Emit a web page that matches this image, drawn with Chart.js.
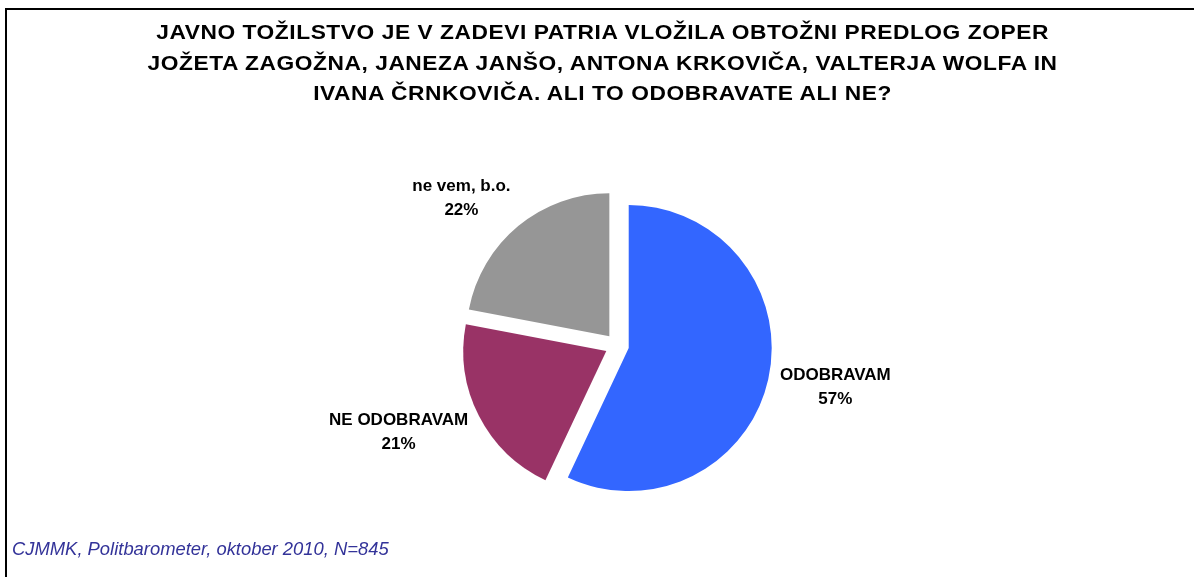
<!DOCTYPE html>
<html>
<head>
<meta charset="utf-8">
<title>Politbarometer oktober 2010</title>
<script src="https://cdn.jsdelivr.net/npm/chart.js@4.4.0/dist/chart.umd.min.js"></script>
<style>
  body { margin: 0; background: #fff; overflow: hidden; }
  #frame {
    position: absolute; left: 5px; top: 8px; width: 1300px; height: 700px;
    border-left: 2px solid #000; border-top: 2px solid #000;
  }
  #pie { position: absolute; left: 0; top: 0; }
  #title {
    position: absolute; left: 0; top: 17px; width: 1205px; text-align: center;
    font: bold 20.5px/30.5px "Liberation Sans", Arial, sans-serif;
    letter-spacing: 0.5px; color: #000;
    transform: scaleX(1.11); transform-origin: 602px 0;
  }
  #note {
    position: absolute; left: 12px; top: 539px;
    font: italic 18.4px/20px "Liberation Sans", Arial, sans-serif;
    color: #333399;
  }
</style>
</head>
<body>
<div id="frame"></div>
<canvas id="pie" width="1194" height="577"></canvas>
<div id="title">JAVNO TOŽILSTVO JE V ZADEVI PATRIA VLOŽILA OBTOŽNI PREDLOG ZOPER<br>JOŽETA ZAGOŽNA, JANEZA JANŠO, ANTONA KRKOVIČA, VALTERJA WOLFA IN<br>IVANA ČRNKOVIČA. ALI TO ODOBRAVATE ALI NE?</div>
<div id="note">CJMMK, Politbarometer, oktober 2010, N=845</div>
<script>
  "use strict";
  // answers, in percent
  var categories = ["ODOBRAVAM", "NE ODOBRAVAM", "ne vem, b.o."];
  var shares = [57, 21, 22];
  var sliceColors = ["#3366FF", "#993366", "#969696"];

  var EXPLODE = 12;   // how far each slice is pulled out
  var GAP = 12;       // space between slice and its label
  var LINE_H = 24;

  // pull every slice out along its middle angle
  var explodePlugin = {
    id: "explode",
    beforeDatasetDraw: function (chart, args) {
      var ctx = chart.ctx;
      args.meta.data.forEach(function (arc) {
        var mid = (arc.startAngle + arc.endAngle) / 2;
        ctx.save();
        ctx.translate(Math.cos(mid) * EXPLODE, Math.sin(mid) * EXPLODE);
        arc.draw(ctx);
        ctx.restore();
      });
      return false;
    }
  };

  // name + percent outside each slice, box hangs off to the side it points to
  var labelPlugin = {
    id: "sliceLabels",
    afterDatasetsDraw: function (chart) {
      var ctx = chart.ctx;
      var meta = chart.getDatasetMeta(0);
      ctx.save();
      ctx.font = "bold 17px 'Liberation Sans', Arial, sans-serif";
      ctx.fillStyle = "#000";
      ctx.textAlign = "center";
      ctx.textBaseline = "middle";
      meta.data.forEach(function (arc, i) {
        var lines = [categories[i], shares[i] + "%"];
        var w = Math.max(ctx.measureText(lines[0]).width, ctx.measureText(lines[1]).width);
        var h = LINE_H * 2;
        var mid = (arc.startAngle + arc.endAngle) / 2;
        var dx = Math.cos(mid), dy = Math.sin(mid);
        var dist = EXPLODE + arc.outerRadius + GAP;
        var cx = arc.x + dx * dist + (dx >= 0 ? w / 2 : -w / 2);
        var cy = arc.y + dy * dist + dy * h / 2;
        ctx.fillText(lines[0], cx, cy - LINE_H / 2);
        ctx.fillText(lines[1], cx, cy + LINE_H / 2);
      });
      ctx.restore();
    }
  };

  new Chart(document.getElementById("pie"), {
    type: "pie",
    data: {
      labels: categories,
      datasets: [{
        data: shares,
        backgroundColor: sliceColors,
        borderWidth: 0,
        radius: 143
      }]
    },
    options: {
      responsive: false,
      animation: false,
      events: [],
      layout: { padding: { left: 40, right: 0, top: 120, bottom: 6 } },
      plugins: {
        legend: { display: false },
        tooltip: { enabled: false }
      }
    },
    plugins: [explodePlugin, labelPlugin]
  });
</script>
</body>
</html>
